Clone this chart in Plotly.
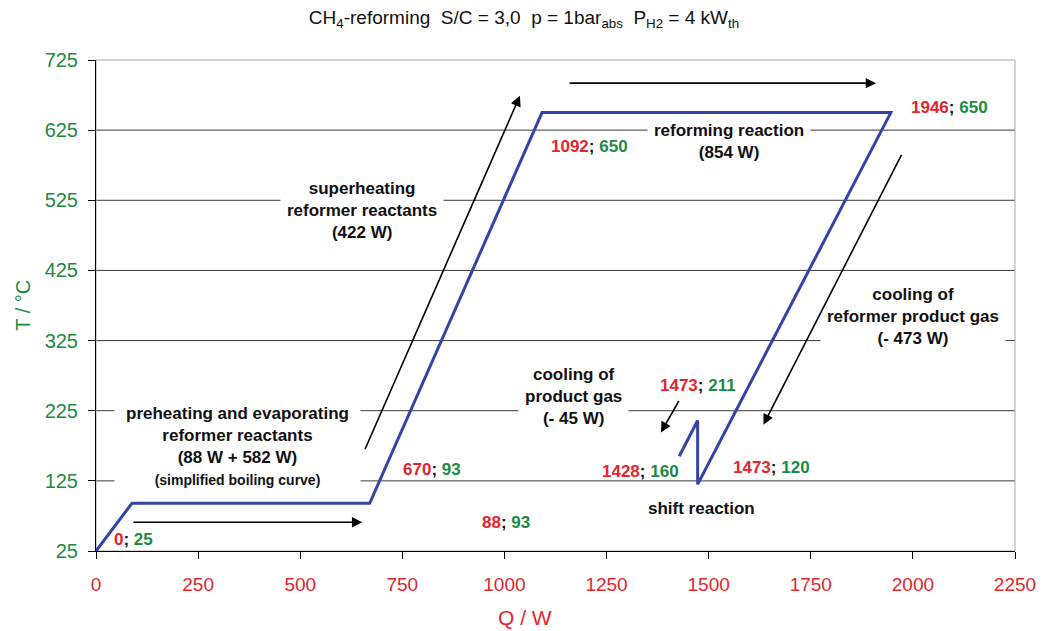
import plotly.graph_objects as go

# ---- data (Q / W, T / °C) along the process path ----
Q = [0, 88, 670, 1092, 1946, 1473, 1473, 1428]
T = [25, 93, 93, 650, 650, 120, 211, 160]

x_ticks = [0, 250, 500, 750, 1000, 1250, 1500, 1750, 2000, 2250]
y_ticks = [25, 125, 225, 325, 425, 525, 625, 725]

# label placement for each point (Q, T position of the "Q; T" text)
label_pos = [(93, 41), (1004, 65), (823, 141), (1209, 602),
             (2089, 658), (1654, 144), (1473, 261), (1334, 138)]

process_notes = [
    ("<b>preheating and evaporating<br>reformer reactants<br>(88 W + 582 W)<br>"
     "<span style='font-size:14px'>(simplified boiling curve)</span></b>", 347, 175, 11),
    ("<b>superheating<br>reformer reactants<br>(422 W)</b>", 652, 511, 6),
    ("<b>reforming reaction<br>(854 W)</b>", 1549, 609, 6),
    ("<b>cooling of<br>reformer product gas<br>(- 473 W)</b>", 2001, 359, 6),
    ("<b>cooling of<br>product gas<br>(- 45 W)</b>", 1170, 245, 6),
    ("<b>shift reaction</b>", 1483, 85, 2),
]
# arrows: (tail Q, tail T, head Q, head T)
arrows = [
    (88, 66, 652, 66),
    (657, 168, 1038, 674),
    (1156, 692, 1910, 692),
    (1974, 592, 1634, 205),
    (1429, 241, 1383, 194),
]

RED = "#e4252d"
GREEN = "#1d8a42"
BLUE = "#3444a6"
FONT = "Liberation Sans, Arial, sans-serif"

fig = go.Figure()
fig.add_trace(go.Scatter(x=Q, y=T, mode="lines",
                         line=dict(color=BLUE, width=3),
                         hoverinfo="skip", showlegend=False))

# grid lines (interior ticks)
for v in y_ticks[1:-1]:
    fig.add_shape(type="line", xref="paper", x0=0, x1=1, yref="y", y0=v, y1=v,
                  line=dict(color="#3a3a3a", width=1), layer="below")
# frame (top/right in grey)
fig.add_shape(type="rect", xref="paper", yref="paper", x0=0, x1=1, y0=0, y1=1,
              line=dict(color="#a8a8a8", width=1), layer="below")

annotations = []
for note, qx, ty, pad in process_notes:
    annotations.append(dict(x=qx, y=ty, xref="x", yref="y", text=note,
                            showarrow=False, bgcolor="white", borderpad=pad,
                            font=dict(family=FONT, size=17, color="#111111")))

for i, (qx, ty) in enumerate(label_pos):
    qv = Q[i]
    tv = T[i]
    txt = (f"<b><span style='color:{RED}'>{qv}</span>; "
           f"<span style='color:{GREEN}'>{tv}</span></b>")
    annotations.append(dict(x=qx, y=ty, xref="x", yref="y", text=txt,
                            showarrow=False,
                            font=dict(family=FONT, size=17, color="#111111")))

for tq, tt, hq, ht in arrows:
    annotations.append(dict(x=hq, y=ht, ax=tq, ay=tt, xref="x", yref="y",
                            axref="x", ayref="y", text="", showarrow=True,
                            arrowhead=2, arrowsize=1.3, arrowwidth=1.6,
                            arrowcolor="black", standoff=0, startstandoff=0))

# axis titles
annotations.append(dict(x=-0.0803, y=0.5, xref="paper", yref="paper",
                        xanchor="center", yanchor="middle",
                        text="T / °C", textangle=-90, showarrow=False,
                        font=dict(family=FONT, size=20, color=GREEN)))
annotations.append(dict(x=0.467, y=-0.136, xref="paper", yref="paper",
                        xanchor="center", yanchor="middle",
                        text="Q / W", showarrow=False,
                        font=dict(family=FONT, size=21, color=RED)))

fig.update_layout(
    width=1048, height=631,
    margin=dict(l=96, r=31, t=60, b=80),
    paper_bgcolor="white", plot_bgcolor="white",
    title=dict(text="CH<sub>4</sub>-reforming&nbsp; S/C = 3,0&nbsp; p = 1bar<sub>abs</sub>&nbsp; "
                    "P<sub>H2</sub> = 4 kW<sub>th</sub>",
               x=0.5, xref="container", xanchor="center",
               y=1 - 17 / 631, yref="container", yanchor="middle",
               font=dict(family=FONT, size=19, color="#111111")),
    annotations=annotations,
    showlegend=False,
)
fig.update_xaxes(range=[0, 2250], tickvals=x_ticks, ticktext=[str(v) for v in x_ticks],
                 showgrid=False, zeroline=False, showline=True, linecolor="black",
                 linewidth=1, ticks="outside", ticklen=7, tickcolor="black",
                 ticklabelstandoff=9,
                 tickfont=dict(family=FONT, size=19, color=RED))
fig.update_yaxes(range=[25, 725], tickvals=y_ticks, ticktext=[str(v) for v in y_ticks],
                 showgrid=False, zeroline=False, showline=True, linecolor="black",
                 linewidth=1, ticks="outside", ticklen=7, tickcolor="black",
                 ticklabelstandoff=6,
                 tickfont=dict(family=FONT, size=20, color=GREEN))

fig.write_html("out.html")
